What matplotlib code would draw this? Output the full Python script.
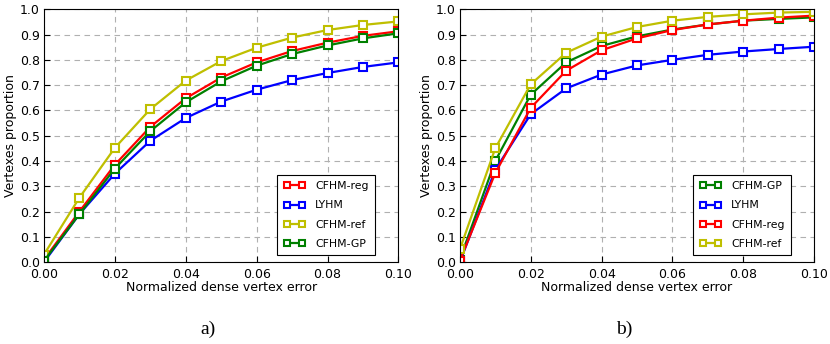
import matplotlib
matplotlib.use("Agg")
import matplotlib.pyplot as plt

x = [0.0, 0.01, 0.02, 0.03, 0.04, 0.05, 0.06, 0.07, 0.08, 0.09, 0.10]

# panel a)
a_reg = [0.01, 0.20, 0.385, 0.535, 0.648, 0.73, 0.79, 0.835, 0.868, 0.895, 0.913]
a_lyhm = [0.0, 0.19, 0.35, 0.48, 0.57, 0.635, 0.682, 0.72, 0.748, 0.772, 0.79]
a_ref = [0.03, 0.255, 0.452, 0.605, 0.718, 0.795, 0.848, 0.888, 0.918, 0.938, 0.952]
a_gp = [0.005, 0.19, 0.37, 0.518, 0.632, 0.715, 0.777, 0.823, 0.857, 0.885, 0.905]

# panel b)
b_gp = [0.01, 0.40, 0.662, 0.79, 0.855, 0.893, 0.92, 0.94, 0.955, 0.962, 0.968]
b_lyhm = [0.0, 0.365, 0.585, 0.687, 0.742, 0.778, 0.80, 0.82, 0.833, 0.843, 0.852]
b_reg = [0.005, 0.352, 0.61, 0.757, 0.838, 0.885, 0.918, 0.94, 0.955, 0.967, 0.975]
b_ref = [0.05, 0.45, 0.703, 0.828, 0.892, 0.93, 0.955, 0.97, 0.98, 0.987, 0.99]

xticks = [0.0, 0.02, 0.04, 0.06, 0.08, 0.10]
xtick_labels = ["0.00", "0.02", "0.04", "0.06", "0.08", "0.10"]
yticks = [0.0, 0.1, 0.2, 0.3, 0.4, 0.5, 0.6, 0.7, 0.8, 0.9, 1.0]
ytick_labels = ["0.0", "0.1", "0.2", "0.3", "0.4", "0.5", "0.6", "0.7", "0.8", "0.9", "1.0"]

panel_a = [("CFHM-reg", a_reg, "r"), ("LYHM", a_lyhm, "b"),
           ("CFHM-ref", a_ref, "y"), ("CFHM-GP", a_gp, "g")]
panel_b = [("CFHM-GP", b_gp, "g"), ("LYHM", b_lyhm, "b"),
           ("CFHM-reg", b_reg, "r"), ("CFHM-ref", b_ref, "y")]

colors = {"r": "#ff0000", "b": "#0000ff", "y": "#bfbf00", "g": "#008000"}

fig = plt.figure(figsize=(8.3, 3.44), dpi=100)
ax1 = fig.add_axes([0.053, 0.238, 0.427, 0.735])
ax2 = fig.add_axes([0.554, 0.238, 0.427, 0.735])

for ax, series, tag, tx in [(ax1, panel_a, "a)", 208 / 830), (ax2, panel_b, "b)", 624 / 830)]:
    for name, vals, c in series:
        ax.plot(x, vals, color=colors[c], lw=1.6, marker="s", ms=5.5,
                mfc="white", mec=colors[c], mew=1.5, label=name)
    ax.set_xlim(0, 0.10)
    ax.set_ylim(0, 1.0)
    ax.set_xticks(xticks)
    ax.set_xticklabels(xtick_labels)
    ax.set_yticks(yticks)
    ax.set_yticklabels(ytick_labels)
    ax.tick_params(labelsize=9, direction="in", length=4)
    ax.tick_params(axis="x", pad=4)
    ax.tick_params(axis="y", pad=3)
    ax.grid(True, linestyle=(0, (5, 4)), color="#b0b0b0", lw=0.8)
    ax.set_xlabel("Normalized dense vertex error", fontsize=9, labelpad=0)
    ax.set_ylabel("Vertexes proportion", fontsize=9, labelpad=2)
    leg = ax.legend(loc="lower right", bbox_to_anchor=(0.935, 0.027),
                    fontsize=7.8, numpoints=2, fancybox=False, markerscale=0.85,
                    edgecolor="black", framealpha=1, borderpad=0.6,
                    labelspacing=0.85, handlelength=2.0, handletextpad=0.9,
                    borderaxespad=0)
    leg.get_frame().set_linewidth(0.8)
    fig.text(tx, 1 - 329 / 344, tag, fontsize=14, family="Liberation Serif",
             ha="center", va="center")

fig.savefig("out.png", dpi=100)
